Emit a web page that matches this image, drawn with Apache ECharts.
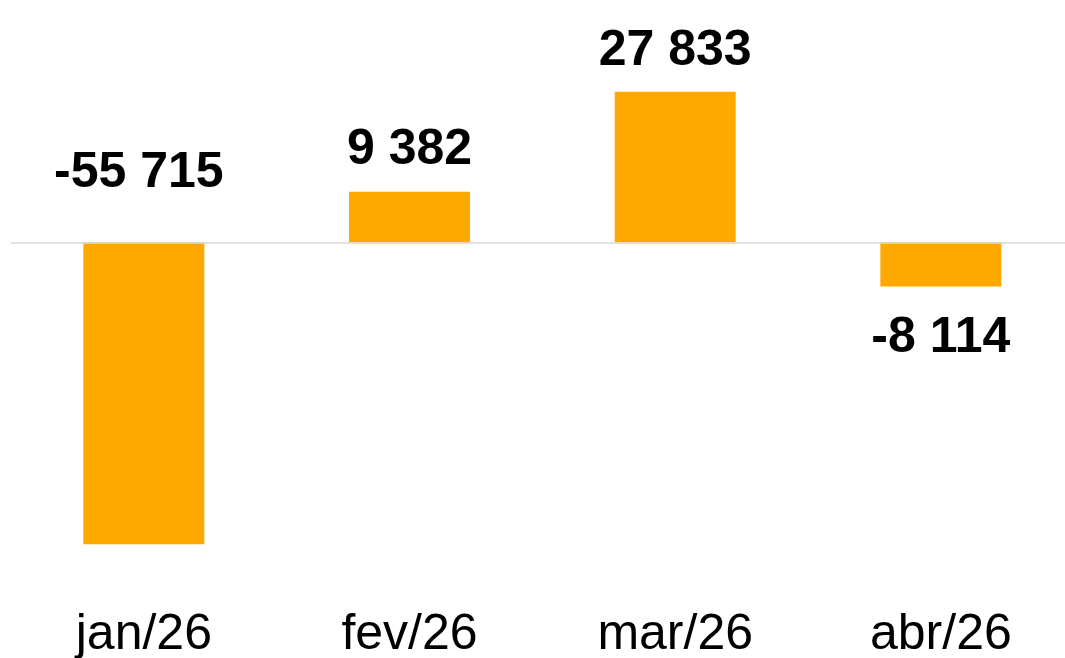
<!DOCTYPE html>
<html>
<head>
<meta charset="utf-8">
<script src="https://cdn.jsdelivr.net/npm/echarts@6/dist/echarts.min.js"></script>
<style>
html,body{margin:0;padding:0;background:#fff;}
#chart{width:1065px;height:658px;}
</style>
</head>
<body>
<div id="chart"></div>
<script>
const categories = ['jan/26', 'fev/26', 'mar/26', 'abr/26'];
const values = [-55715, 9382, 27833, -8114];

function fmt(v) {
  const s = Math.abs(v).toString().replace(/\B(?=(\d{3})+(?!\d))/g, ' ');
  return (v < 0 ? '-' : '') + s;
}

// label placement per bar (style, not data)
const labelPlacement = [
  { position: 'top', distance: 44, offset: [-5, 0] },
  { position: 'top', distance: 16 },
  { position: 'top', distance: 16 },
  { position: 'bottom', distance: 27 }
];

const chart = echarts.init(document.getElementById('chart'), null, { renderer: 'canvas' });
chart.setOption({
  animation: false,
  backgroundColor: '#ffffff',
  grid: { left: 11, width: 1062.7, top: 25.9, bottom: 90.6, containLabel: false, outerBoundsMode: 'none' },
  xAxis: {
    type: 'category',
    data: categories,
    axisLine: { show: false, onZero: false },
    axisTick: { show: false },
    splitLine: { show: false },
    axisLabel: {
      margin: 43,
      fontFamily: 'Liberation Sans',
      fontSize: 50,
      color: '#000000'
    }
  },
  yAxis: {
    type: 'value',
    min: -60000,
    max: 40000,
    show: false,
    splitLine: { show: false }
  },
  series: [{
    type: 'bar',
    barWidth: 121,
    itemStyle: { color: '#FFA800' },
    data: values.map((v, i) => ({
      value: v,
      label: labelPlacement[i]
    })),
    label: {
      show: true,
      fontFamily: 'Liberation Sans',
      fontWeight: 'bold',
      fontSize: 50,
      color: '#000000',
      formatter: p => fmt(p.value)
    },
    markLine: {
      silent: true,
      symbol: ['none', 'none'],
      label: { show: false },
      lineStyle: { color: '#d9d9d9', width: 1.5, type: 'solid' },
      data: [{ yAxis: 0 }]
    }
  }]
});
</script>
</body>
</html>
